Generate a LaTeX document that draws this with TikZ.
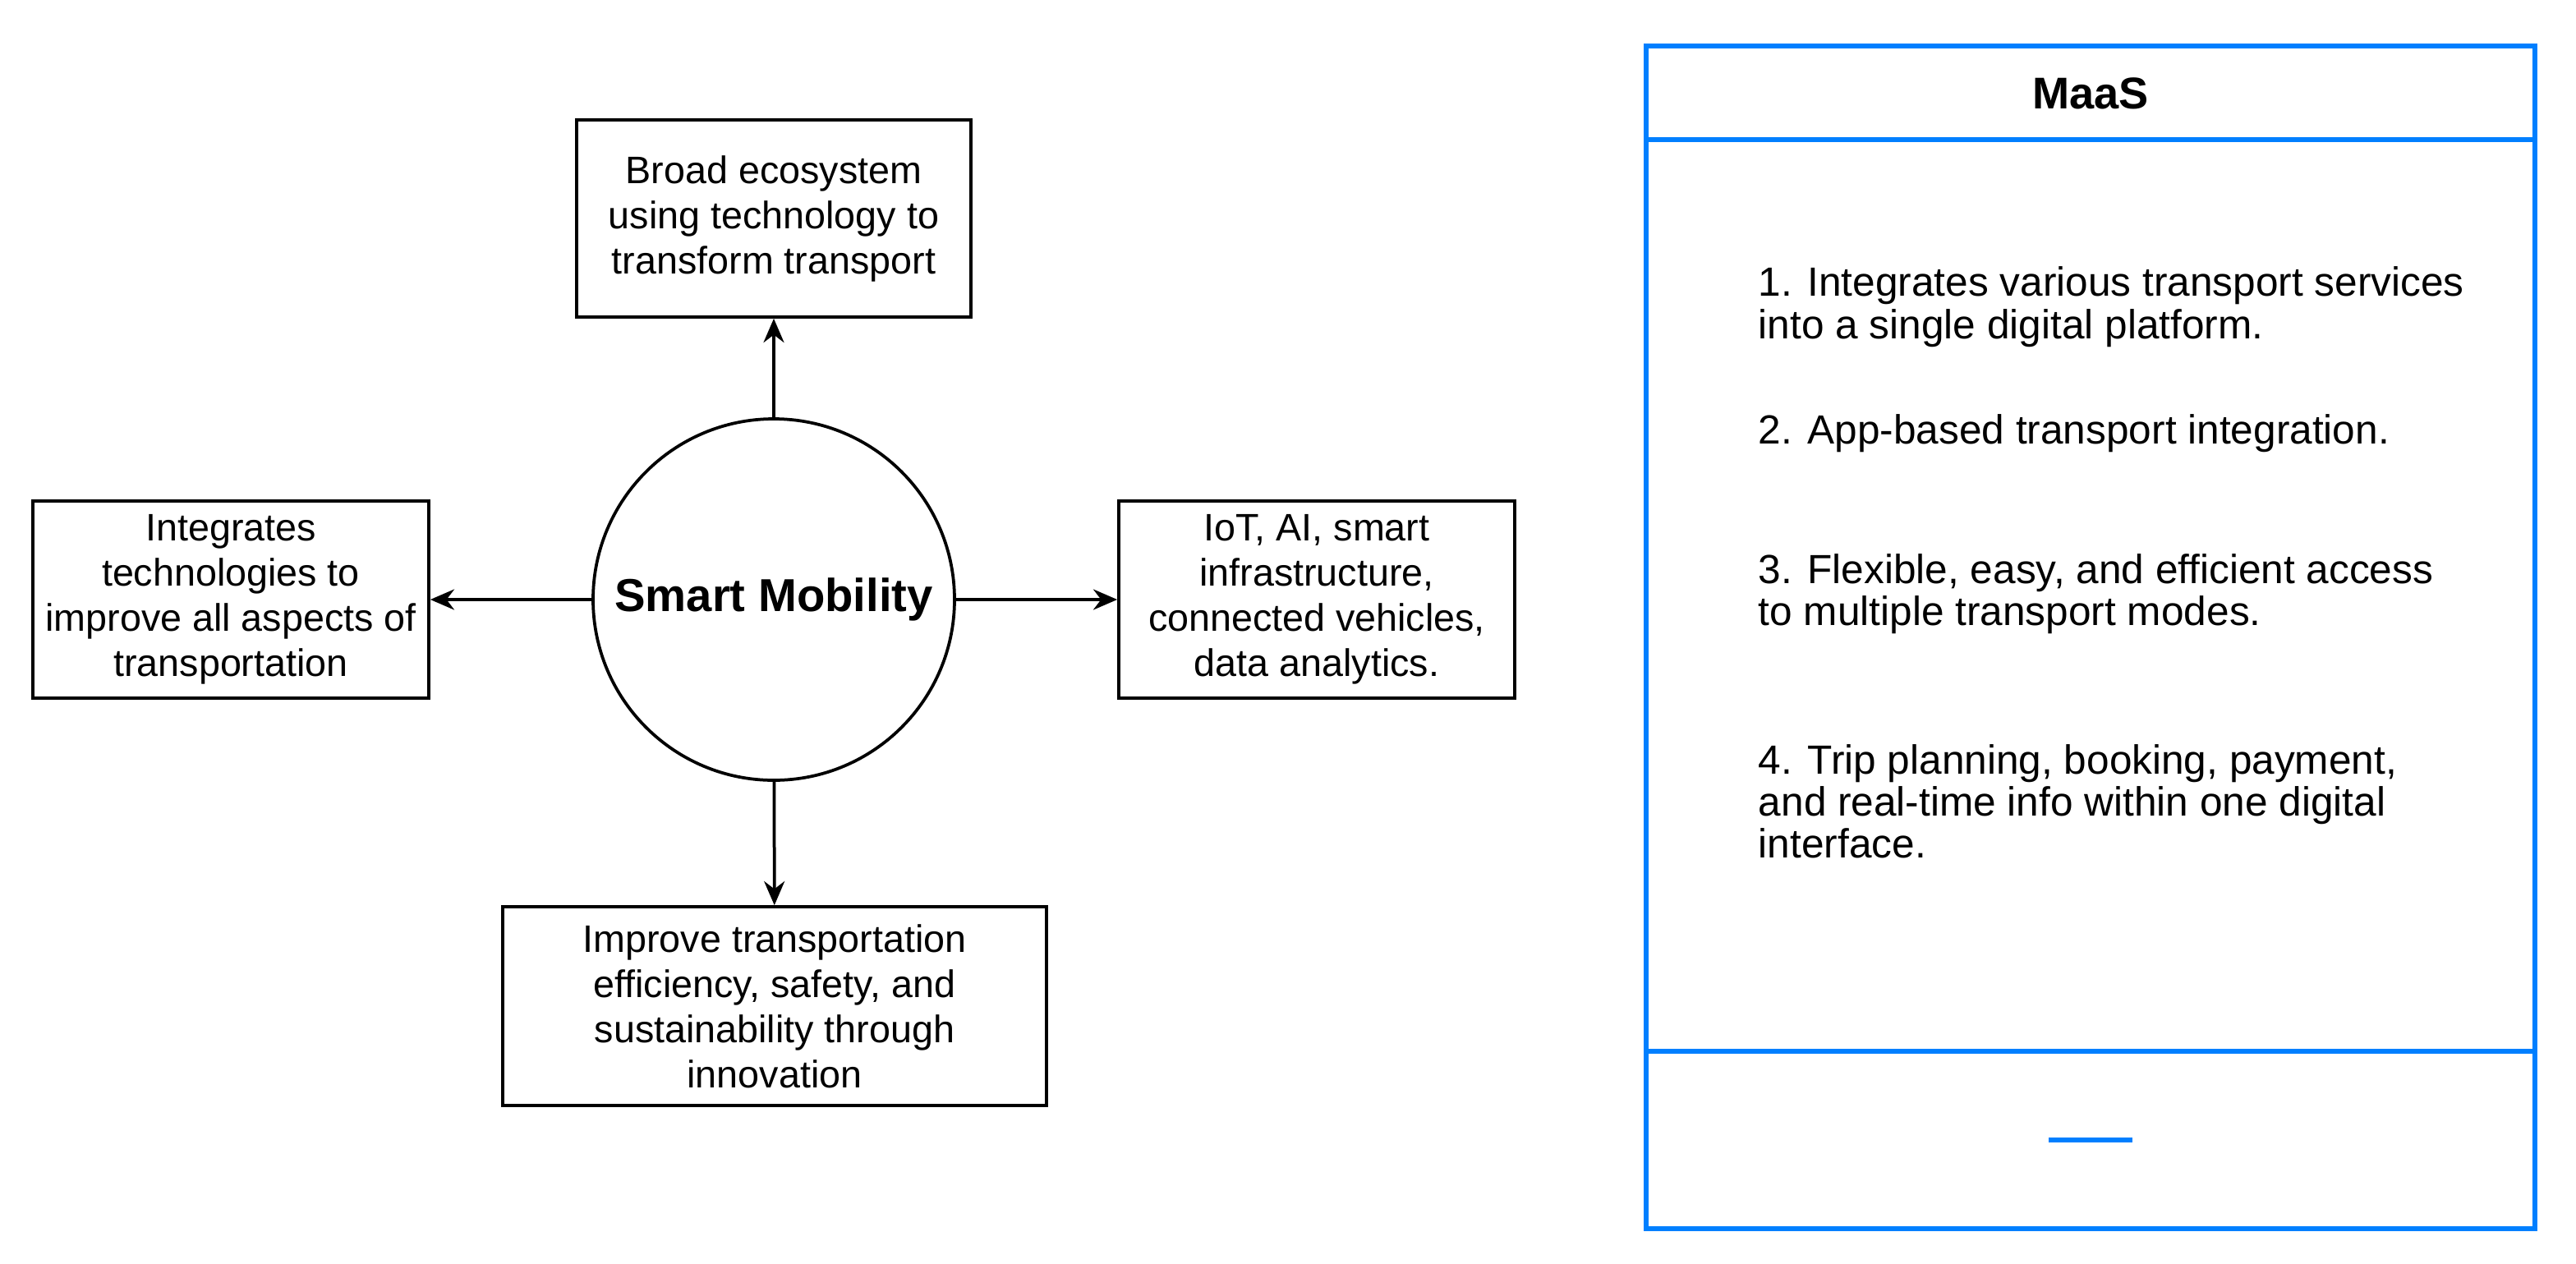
\documentclass[tikz,border=0pt]{standalone}
\usepackage{fontspec}
\setmainfont{Liberation Sans}
\usetikzlibrary{arrows.meta}
\definecolor{maasblue}{RGB}{0,127,255}
\begin{document}
\begin{tikzpicture}[x=0.48pt,y=0.48pt,yscale=-1,
  box/.style={draw,line width=0.9pt,align=center,font=\fontsize{11.2}{13.2}\selectfont,inner sep=0pt},
  link/.style={-{Stealth[length=7pt,width=6pt]},line width=0.9pt}]
\useasboundingbox (0,0) rectangle (1568,769);
% centre circle
\node [draw,circle,line width=0.9pt,minimum size=220*0.48pt,font=\bfseries\fontsize{13.5}{16}\selectfont] (hub) at (471,365) {Smart Mobility};
% boxes
\node [box,minimum width=240*0.48pt,minimum height=120*0.48pt] (top) at (471,133) {Broad ecosystem\\using technology to\\transform transport};
\node [box,minimum width=241*0.48pt,minimum height=120*0.48pt] (left) at (140.5,365) {Integrates\\technologies to\\improve all aspects of\\transportation};
\node [box,minimum width=241*0.48pt,minimum height=120*0.48pt] (right) at (801.5,365) {IoT, AI, smart\\infrastructure,\\connected vehicles,\\data analytics.};
\node [box,minimum width=331*0.48pt,minimum height=121*0.48pt] (bottom) at (471.5,612.5) {Improve transportation\\efficiency, safety, and\\sustainability through\\innovation};
\draw [link] (hub) -- (top);
\draw [link] (hub) -- (left);
\draw [link] (hub) -- (right);
\draw [link] (hub) -- (bottom);
% MaaS panel
\draw [maasblue,line width=1.5pt] (1002,28) rectangle (1543,748);
\draw [maasblue,line width=1.5pt] (1002,85) -- (1543,85);
\draw [maasblue,line width=1.5pt] (1002,640) -- (1543,640);
\draw [maasblue,line width=1.5pt] (1247,694) -- (1298,694);
\node [font=\bfseries\fontsize{13}{15}\selectfont] (title) at (1272.5,57) {MaaS};
\node [anchor=north west,align=left,inner sep=0pt,font=\fontsize{11.9}{12.3}\selectfont] (items) at (1070,162) {1. Integrates various transport services\\into a single digital platform.\\[18.5pt]2. App-based transport integration.\\[28.5pt]3. Flexible, easy, and efficient access\\to multiple transport modes.\\[31pt]4. Trip planning, booking, payment,\\and real-time info within one digital\\interface.};
\end{tikzpicture}
\end{document}
